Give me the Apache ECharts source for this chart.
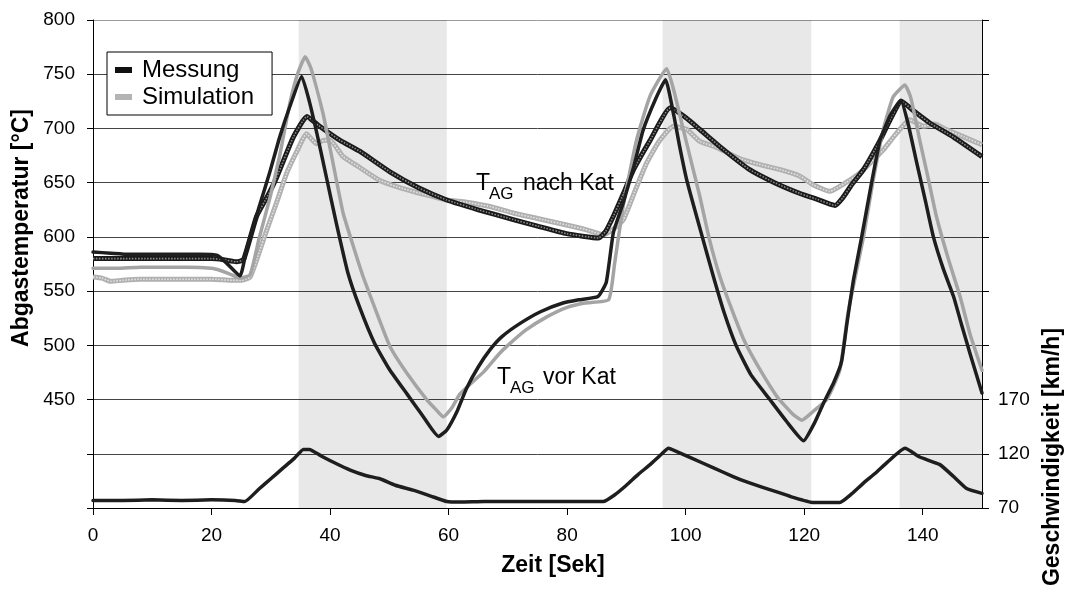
<!DOCTYPE html>
<html>
<head>
<meta charset="utf-8">
<script src="https://cdn.jsdelivr.net/npm/echarts@6/dist/echarts.min.js"></script>
<style>
  html, body { margin: 0; padding: 0; background: #fff; }
  #chart { width: 1067px; height: 589px; }
</style>
</head>
<body>
<div id="chart"></div>
<script>
// Abgastemperatur vor und nach Katalysator, Messung und Simulation, [Zeit s, Temperatur °C]
const messungVorKat = [
  [0,586],[3,585],[6,584],[10,584],[14,584],[18,584],[21,583],[22.5,576],[24.8,564],[25.9,588],
  [28,627],[29.9,661],[31.5,692],[33.2,720],[35.2,748],[36.5,725],[38,690],[39.5,652],[41,614],
  [43,567],[45,535],[47.5,502],[50,478],[53,455],[55.5,436],[58.3,416],[59.7,422],[61.5,440],
  [63,460],[65,480],[67,496],[69,508],[72,520],[75.5,531],[79.3,539],[82,542],[85.2,545],
  [86.6,558],[87.8,604],[89.5,632],[91.2,664],[92.8,698],[95,728],[96.6,745],[98,712],[99,683],
  [100.2,652],[102.5,606],[104.7,563],[106.5,530],[108.5,500],[111,473],[114.2,450],[117,430],
  [119.9,412],[121.7,428],[123.2,446],[125,466],[126.3,485],[127.2,520],[128.3,560],[129.7,600],
  [131.3,648],[132.8,689],[134.5,712],[136.3,726],[137.5,705],[139,668],[140.5,632],[141.8,600],
  [143.5,570],[145.2,545],[146.5,520],[148,492],[150,456]
];
const simulationVorKat = [
  [0,571],[4,571],[8,572],[12,572],[16,572],[20,571],[21.5,569],[23,566],[24.8,562],[26.5,565],
  [28,598],[29.9,637],[31.5,675],[33.2,723],[34.5,750],[35.8,766],[36.8,755],[38.8,714],[40.5,668],
  [42.2,622],[44,590],[45.6,563],[48,528],[50.1,499],[53,474],[56.3,450],[58,440],[59.1,434],
  [60.5,442],[61.9,455],[64,466],[66,476],[68.5,492],[70,500],[73,514],[76.5,526],[80,535],
  [83,539],[87,542],[88,575],[89.5,630],[91.7,689],[94,730],[96.8,755],[98,735],[99.6,699],
  [101,668],[102.4,637],[104,598],[105.8,563],[108,530],[110,503],[112.5,478],[115.5,452],
  [118,437],[119.6,431],[121.5,439],[123.8,450],[126,477],[127.4,530],[128.5,560],[130,600],
  [131.5,648],[133.3,698],[135,729],[137,740],[138,728],[139.5,689],[141,652],[142.3,619],
  [144.3,580],[146.3,545],[148,510],[150,477]
];
const messungNachKat = [
  [0,580],[5,580],[10,580],[15,580],[20,580],[22,579],[24.2,577],[25.4,579],[27.6,619],[29.5,638],
  [31,655],[33.8,692],[36.1,711],[38,703],[41.7,689],[45,679],[50.1,660],[55,645],[59.7,634],
  [65,625],[70.9,616],[75,610],[79.9,603],[85.3,599],[86.5,605],[87.8,619],[89.5,640],[91.2,662],
  [94,689],[97.4,719],[100,710],[102.4,699],[106.5,680],[110.8,662],[115,650],[119.3,640],
  [122,635],[125.2,629],[126.5,636],[128,648],[130,662],[132.8,689],[134.5,708],[136.4,725],
  [138.5,716],[141.2,705],[145.2,692],[150,674]
];
const simulationNachKat = [
  [0,563],[1.5,562],[3,559],[5,560],[8,561],[12,561],[16,561],[20,561],[23.6,560],[25,560],
  [26.5,563],[28,585],[29.3,606],[31,632],[32.7,659],[34.5,680],[36,695],[37.7,686],[39,689],
  [40,689],[42.2,674],[45,664],[48.4,652],[52,645],[56,639],[59.7,634],[63,632],[67,628],
  [70.9,622],[75,617],[79.9,611],[83,607],[86.1,602],[88,608],[89.5,616],[91.5,643],[93.4,668],
  [95.5,688],[97.9,702],[100.2,699],[102.4,688],[105,683],[109.2,672],[113,666],[116,662],
  [119.3,656],[121.5,648],[124.3,642],[127,650],[129.4,659],[131.5,670],[133.3,680],[135.5,695],
  [137.8,708],[140.1,702],[142,704],[144,699],[147,692],[150,685]
];
// Fahrzeuggeschwindigkeit [Zeit s, km/h]
const geschwindigkeit = [
  [0,77],[5,77],[10,77.5],[15,77],[20,77.5],[24,77],[25.6,76],[28,87.5],[30,97],[32,106.5],
  [34,116],[35.5,124],[36.5,124],[38.5,118],[41,111],[43.4,105],[46,100],[48.4,97],[51,91],
  [54,86.5],[57,81],[59.7,76],[62,75.5],[66,76],[70,76],[74,76],[78,76],[82,76],[86.1,76],
  [88,82],[90,91],[92,101],[94,110],[96,120],[97.1,125],[98.5,122],[101,116],[104.7,107],
  [108,99],[110.3,94],[113,89],[115.9,84],[118,80],[121.5,75],[124,75],[126,75],[128,83],
  [130,93],[132,102],[134,112],[137,125],[139.5,117],[142.9,110],[145.2,99],[147.4,88],[150,83.5]
];
// grau hinterlegte Zeitabschnitte [Beginn, Ende] in s
const markierteBereiche = [[34.7, 59.7], [96.1, 121.2], [136.1, 150]];

const FONT = '"Liberation Sans", Arial, sans-serif';

const chart = echarts.init(document.getElementById('chart'), null, { renderer: 'canvas' });

function solidLine(name, data, color, yAxisIndex, z) {
  return {
    name, type: 'line', data, yAxisIndex, z,
    showSymbol: false, smooth: 0.15, silent: true,
    lineStyle: { color, width: 3.5, cap: 'round', join: 'round' }
  };
}
// Linie mit Punktmuster: breite Grundlinie plus gestrichelte helle Mittellinie
function texturedLine(name, data, base, dots, z) {
  return [
    {
      name, type: 'line', data, z, showSymbol: false, smooth: 0.15, silent: true,
      lineStyle: { color: base, width: 5, join: 'round' }
    },
    {
      name, type: 'line', data, z: z + 0.1, showSymbol: false, smooth: 0.15, silent: true,
      lineStyle: { color: dots, width: 1.6, type: [1.5, 1.5], join: 'round' }
    }
  ];
}

function label(x, y, text, size) {
  return {
    type: 'text', x, y, z: 10,
    style: { text, font: size + 'px ' + FONT, fill: '#000', textVerticalAlign: 'bottom' }
  };
}
function title(x, y, text, rotated) {
  return {
    type: 'text', x, y, z: 10, rotation: rotated ? Math.PI / 2 : 0,
    style: { text, font: 'bold 23px ' + FONT, fill: '#000', textAlign: 'center', textVerticalAlign: 'middle' }
  };
}

const option = {
  animation: false,
  backgroundColor: '#fff',
  grid: { left: 93, right: 85, top: 20, bottom: 81 },
  legend: {
    left: 107, top: 52, orient: 'vertical',
    padding: [6, 18, 6, 8], itemGap: 3,
    itemWidth: 17, itemHeight: 6,
    borderColor: '#000', borderWidth: 1, backgroundColor: '#fff',
    textStyle: { fontFamily: FONT, fontSize: 24, color: '#000', padding: [0, 0, 0, 5] },
    data: [
      { name: 'Messung', icon: 'rect', itemStyle: { color: '#111' } },
      { name: 'Simulation', icon: 'rect', itemStyle: { color: '#b4b4b4' } }
    ],
    selectedMode: false
  },
  xAxis: {
    type: 'value', min: 0, max: 150, interval: 20,
    axisLine: { show: true, lineStyle: { color: '#000', width: 1 } },
    axisTick: { show: true, length: 7, lineStyle: { color: '#000' } },
    axisLabel: { fontFamily: FONT, fontSize: 19, color: '#000', margin: 18, showMaxLabel: false },
    splitLine: { show: false }
  },
  yAxis: [
    {
      type: 'value', min: 350, max: 800, interval: 50,
      axisLine: { show: true, lineStyle: { color: '#000', width: 1 } },
      axisTick: { show: true, length: 6, lineStyle: { color: '#000' } },
      axisLabel: {
        fontFamily: FONT, fontSize: 19, color: '#000', margin: 18,
        formatter: v => (v >= 450 ? String(v) : '')
      },
      splitLine: {
        show: true,
        lineStyle: { color: ['#444', '#444', '#444', '#444', '#444', '#444', '#444', '#444', '#444', '#9a9a9a'], width: 1 }
      }
    },
    {
      type: 'value', min: 70, max: 520, interval: 50, position: 'right',
      axisLine: { show: true, lineStyle: { color: '#000', width: 1 } },
      axisTick: { show: true, length: 7, lineStyle: { color: '#000' } },
      axisLabel: {
        fontFamily: FONT, fontSize: 19, color: '#000', margin: 16,
        formatter: v => (v <= 170 ? String(v) : '')
      },
      splitLine: { show: false }
    }
  ],
  graphic: [
    // unterbricht die Gitterlinie hinter der Beschriftung "nach Kat"
    { type: 'rect', z: 0, shape: { x: 473, y: 179, width: 146, height: 9 }, style: { fill: '#fff' }, silent: true },
    label(476, 195, 'T', 23),
    label(489, 203, 'AG', 17),
    label(523, 195, 'nach Kat', 23),
    label(497, 389, 'T', 23),
    label(510, 397, 'AG', 17),
    label(543, 389, 'vor Kat', 23),
    title(22, 228, 'Abgastemperatur [°C]', true),
    title(1053, 457, 'Geschwindigkeit [km/h]', true),
    title(553, 566, 'Zeit [Sek]', false)
  ],
  series: [
    Object.assign(solidLine('Geschwindigkeit', geschwindigkeit, '#1e1e1e', 1, 3), {
      markArea: {
        silent: true,
        itemStyle: { color: 'rgba(0,0,0,0.09)' },
        data: markierteBereiche.map(([a, b]) => [{ xAxis: a }, { xAxis: b }])
      }
    }),
    ...texturedLine('Simulation', simulationNachKat, '#b0b0b0', '#e4e4e4', 4),
    ...texturedLine('Messung', messungNachKat, '#1a1a1a', '#8a8a8a', 5),
    solidLine('Simulation', simulationVorKat, '#a4a4a4', 0, 6),
    solidLine('Messung', messungVorKat, '#1e1e1e', 0, 7)
  ]
};
option.series.forEach(s => { if (s.yAxisIndex === undefined) s.yAxisIndex = 0; });

chart.setOption(option);
</script>
</body>
</html>
